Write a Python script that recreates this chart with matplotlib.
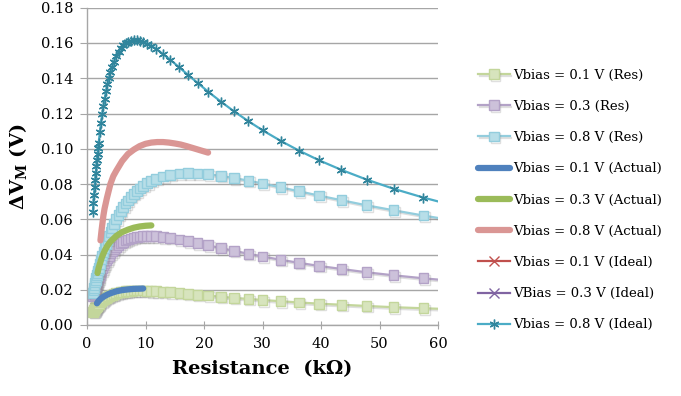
import numpy as np
import matplotlib
matplotlib.use("Agg")
import matplotlib.pyplot as plt
import matplotlib.patheffects as pe

# resistance values (kOhm) of the Res / Ideal series
r_vals = [1.0, 1.1, 1.2, 1.3, 1.4, 1.5, 1.6, 1.7, 1.8, 1.9, 2.0, 2.2, 2.4, 2.6, 2.8, 3.0,
          3.25, 3.5, 3.75, 4.0, 4.3, 4.6, 5.0, 5.4, 5.8, 6.2, 6.6, 7.0, 7.5, 8.0, 8.5, 9.0,
          9.6, 10.3, 11.0, 11.8, 13.0, 14.2, 15.8, 17.3, 18.9, 20.7, 22.9, 25.1, 27.6, 30.0,
          33.1, 36.2, 39.7, 43.5, 47.8, 52.4, 57.5, 63.0]

res_01 = [0.0074, 0.0079, 0.0085, 0.0090, 0.0095, 0.0099, 0.0104, 0.0108, 0.0112, 0.0116,
          0.0120, 0.0127, 0.0133, 0.0139, 0.0144, 0.0149, 0.0155, 0.0160, 0.0164, 0.0168,
          0.0172, 0.0176, 0.0180, 0.0184, 0.0187, 0.0189, 0.0191, 0.0192, 0.0194, 0.0195,
          0.0195, 0.0195, 0.0195, 0.0194, 0.0193, 0.0192, 0.0189, 0.0186, 0.0182, 0.0177,
          0.0172, 0.0167, 0.0160, 0.0154, 0.0148, 0.0142, 0.0135, 0.0128, 0.0121, 0.0115,
          0.0108, 0.0101, 0.0095, 0.0089]

res_03 = [0.0162, 0.0175, 0.0187, 0.0199, 0.0211, 0.0222, 0.0233, 0.0244, 0.0254, 0.0264,
          0.0273, 0.0291, 0.0307, 0.0323, 0.0337, 0.0351, 0.0366, 0.0380, 0.0393, 0.0405,
          0.0417, 0.0429, 0.0442, 0.0454, 0.0464, 0.0472, 0.0479, 0.0485, 0.0491, 0.0496,
          0.0500, 0.0502, 0.0504, 0.0505, 0.0505, 0.0503, 0.0499, 0.0494, 0.0485, 0.0475,
          0.0464, 0.0452, 0.0436, 0.0421, 0.0404, 0.0389, 0.0370, 0.0353, 0.0335, 0.0318,
          0.0299, 0.0282, 0.0265, 0.0249]

res_08 = [0.0180, 0.0196, 0.0211, 0.0226, 0.0241, 0.0255, 0.0269, 0.0283, 0.0297, 0.0310,
          0.0323, 0.0347, 0.0371, 0.0394, 0.0415, 0.0436, 0.0461, 0.0484, 0.0506, 0.0527,
          0.0551, 0.0573, 0.0600, 0.0626, 0.0648, 0.0670, 0.0689, 0.0707, 0.0727, 0.0744,
          0.0760, 0.0775, 0.0790, 0.0805, 0.0818, 0.0829, 0.0843, 0.0852, 0.0859, 0.0861,
          0.0860, 0.0855, 0.0846, 0.0834, 0.0819, 0.0803, 0.0781, 0.0759, 0.0734, 0.0708,
          0.0679, 0.0651, 0.0621, 0.0591]

ideal_08 = [0.0643, 0.0691, 0.0737, 0.0781, 0.0823, 0.0863, 0.0901, 0.0937, 0.0971, 0.1004,
            0.1035, 0.1094, 0.1148, 0.1196, 0.1240, 0.1280, 0.1325, 0.1365, 0.1401, 0.1433,
            0.1466, 0.1494, 0.1526, 0.1551, 0.1572, 0.1587, 0.1599, 0.1608, 0.1614, 0.1617,
            0.1617, 0.1614, 0.1608, 0.1597, 0.1584, 0.1567, 0.1537, 0.1506, 0.1461, 0.1418,
            0.1374, 0.1324, 0.1267, 0.1213, 0.1156, 0.1105, 0.1045, 0.0990, 0.0934, 0.0880,
            0.0825, 0.0773, 0.0723, 0.0675]

# measured ("Actual") curves
act01_r = [1.7, 2.0, 2.5, 3.0, 3.5, 4.0, 5.0, 6.0, 7.0, 8.0, 9.0, 9.6]
act01_v = [0.0123, 0.0137, 0.0153, 0.0164, 0.0173, 0.0180, 0.0191, 0.0198, 0.0202, 0.0205,
           0.0206, 0.0207]
act03_r = [1.8, 2.0, 2.5, 3.0, 3.5, 4.0, 5.0, 6.0, 7.0, 8.0, 9.0, 10.0, 11.0]
act03_v = [0.0295, 0.0325, 0.0380, 0.0420, 0.0450, 0.0473, 0.0505, 0.0527, 0.0541, 0.0552,
           0.0559, 0.0563, 0.0565]
act08_r = [2.3, 2.5, 2.8, 3.0, 3.4, 4.0, 4.5, 5.0, 6.0, 7.0, 8.0, 9.0, 10.0, 11.0, 12.0,
           13.0, 14.0, 15.0, 16.0, 17.0, 18.0, 19.0, 20.0, 20.7]
act08_v = [0.048, 0.054, 0.062, 0.066, 0.072, 0.080, 0.0845, 0.0875, 0.093, 0.097, 0.0995,
           0.1015, 0.1028, 0.1035, 0.1038, 0.1038, 0.1035, 0.1030, 0.1024, 0.1015, 0.1005,
           0.0995, 0.0985, 0.0978]

# Ideal 0.1 / 0.3 V do not show up in the plot area, only in the legend
ideal01_r, ideal01_v = [], []
ideal03_r, ideal03_v = [], []

plt.rcParams["font.family"] = ["DejaVu Serif"]
plt.rcParams["mathtext.default"] = "regular"

fig = plt.figure(figsize=(6.81, 3.96), dpi=100)
ax = fig.add_axes([87 / 681, 71 / 396, 351 / 681, 317.25 / 396])

shadow = [pe.SimpleLineShadow(offset=(1.2, -1.2), alpha=0.25, shadow_color="gray"), pe.Normal()]

ax.plot(r_vals, res_01, color="#C3D69B", lw=1.6, marker="s", ms=7, mfc="#D7E4BD",
        mec="#C3D69B", mew=1.0, label="Vbias = 0.1 V (Res)", path_effects=shadow)
ax.plot(r_vals, res_03, color="#B3A2C7", lw=1.6, marker="s", ms=7, mfc="#CCC1DA",
        mec="#B3A2C7", mew=1.0, label="Vbias = 0.3 (Res)", path_effects=shadow)
ax.plot(r_vals, res_08, color="#93CDDD", lw=1.6, marker="s", ms=7, mfc="#B7DEE8",
        mec="#93CDDD", mew=1.0, label="Vbias = 0.8 V (Res)", path_effects=shadow)

ax.plot(act01_r, act01_v, color="#4F81BD", lw=4.5, solid_capstyle="round",
        label="Vbias = 0.1 V (Actual)")
ax.plot(act03_r, act03_v, color="#9BBB59", lw=4.5, solid_capstyle="round",
        label="Vbias = 0.3 V (Actual)")
ax.plot(act08_r, act08_v, color="#DA9694", lw=4.5, solid_capstyle="round",
        label="Vbias = 0.8 V (Actual)")

ax.plot(ideal01_r, ideal01_v, color="#C0504D", lw=1.6, marker="x", ms=7, mew=1.0,
        label="Vbias = 0.1 V (Ideal)")
ax.plot(ideal03_r, ideal03_v, color="#8064A2", lw=1.6, marker="x", ms=7, mew=1.0,
        label="VBias = 0.3 V (Ideal)")
ax.plot(r_vals, ideal_08, color="#4BACC6", lw=1.6, marker=(6, 2, 0), ms=7, mew=1.0,
        mec="#31859C", label="Vbias = 0.8 V (Ideal)")

ax.set_xlim(0, 60)
ax.set_ylim(0, 0.18)
ax.set_xticks(np.arange(0, 61, 10))
ax.set_yticks(np.arange(0, 0.181, 0.02))
ax.yaxis.set_major_formatter(matplotlib.ticker.FormatStrFormatter("%.2f"))
ax.yaxis.grid(True, color="#A6A6A6", lw=1.0)
ax.set_axisbelow(True)
for s in ("top", "right"):
    ax.spines[s].set_visible(False)
for s in ("left", "bottom"):
    ax.spines[s].set_color("#A6A6A6")
    ax.spines[s].set_linewidth(1.0)
ax.tick_params(axis="y", direction="out", length=5, color="#A6A6A6", labelsize=10.5, pad=5)
ax.tick_params(axis="x", direction="inout", length=6, color="#A6A6A6", labelsize=10.5, pad=6)

ax.set_xlabel("Resistance  (k\u03a9)", fontsize=14, fontweight="bold", labelpad=6)
ax.set_ylabel("\u0394V$_\\mathregular{M}$ (V)", fontsize=14, fontweight="bold", labelpad=8)

fig.legend(loc="center left", bbox_to_anchor=(466 / 681, 1 - 200 / 396), frameon=False,
           fontsize=9.5, labelspacing=1.38, handlelength=2.4, handletextpad=0.3)

fig.savefig("out.png", dpi=100)
